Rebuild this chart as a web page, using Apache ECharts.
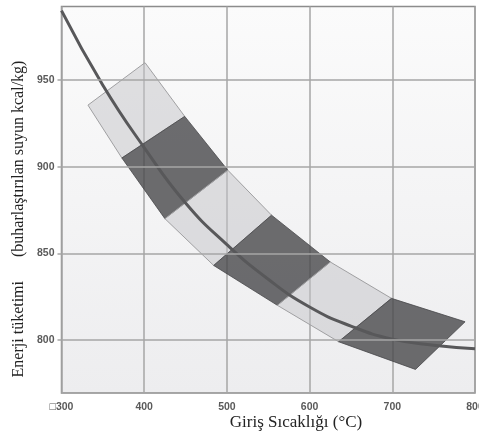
<!DOCTYPE html>
<html>
<head>
<meta charset="utf-8">
<script src="https://cdn.jsdelivr.net/npm/echarts@6/dist/echarts.min.js"></script>
<style>
  html, body { margin: 0; padding: 0; background: #fff; }
  #chart { width: 479px; height: 439px; }
</style>
</head>
<body>
<div id="chart"></div>
<script>
// axis
var xMin = 300, xMax = 800;
var yMin = 769.4, yMax = 992.4;
var yTicks = [800, 850, 900, 950];

// main curve (energy use vs inlet temperature)
var curveX = [300, 350, 400, 450, 500, 550, 600, 650, 700, 750, 800];
var curveY = [990, 947, 911, 879, 855, 835, 819, 808, 800.5, 797, 795];

// shaded band, edges read at the segment boundaries
var upperX = [401, 449, 501, 554, 625, 699, 788];
var upperY = [960, 929, 898, 872, 845, 824, 810.5];
var lowerX = [332, 373, 425, 484, 561, 635, 728];
var lowerY = [935.5, 905, 870, 843, 820, 799, 783];
var shades = ['light', 'dark', 'light', 'dark', 'light', 'dark'];

var chart = echarts.init(document.getElementById('chart'));

var curveData = curveX.map(function (x, i) { return [x, curveY[i]]; });

var bandData = shades.map(function (s, i) {
  return [upperX[i], upperY[i], upperX[i + 1], upperY[i + 1],
          lowerX[i + 1], lowerY[i + 1], lowerX[i], lowerY[i], s === 'dark' ? 1 : 0];
});

function renderBand(params, api) {
  var pts = [];
  for (var k = 0; k < 4; k++) {
    pts.push(api.coord([api.value(k * 2), api.value(k * 2 + 1)]));
  }
  var dark = api.value(8) === 1;
  return {
    type: 'polygon',
    shape: { points: pts },
    style: {
      fill: dark ? 'rgba(72,72,75,0.8)' : 'rgba(196,196,200,0.5)',
      stroke: dark ? 'rgba(72,72,75,0.8)' : '#a0a0a2',
      lineWidth: 1
    }
  };
}

var labelStyle = {
  fontFamily: 'Liberation Sans',
  fontSize: 10.5,
  fontWeight: 'bold',
  color: '#5a5a5a'
};

var option = {
  animation: false,
  grid: {
    left: 61.5, right: 4, top: 6.5, bottom: 46,
    outerBoundsMode: 'none',
    show: true,
    borderColor: '#8c8c8c',
    borderWidth: 1.5,
    backgroundColor: {
      type: 'linear', x: 0, y: 0, x2: 0, y2: 1,
      colorStops: [{ offset: 0, color: '#fbfbfb' }, { offset: 1, color: '#ededef' }]
    }
  },
  xAxis: {
    type: 'value',
    min: xMin, max: xMax, interval: 100,
    axisLine: { show: false },
    axisTick: { show: false },
    axisLabel: Object.assign({
      margin: 9,
      formatter: function (v) { return v === 300 ? '\u25a1300' : String(v); }
    }, labelStyle),
    splitLine: { lineStyle: { color: '#a6a6a6', width: 1.5 } }
  },
  yAxis: {
    type: 'value',
    min: yMin, max: yMax,
    axisLine: { show: false },
    axisTick: {
      show: true,
      length: 4,
      customValues: yTicks,
      lineStyle: { color: '#a6a6a6', width: 1.5 }
    },
    axisLabel: Object.assign({
      margin: 7,
      customValues: yTicks
    }, labelStyle),
    splitLine: { show: false }
  },
  graphic: [
    {
      type: 'text', x: 19, y: 219, rotation: Math.PI / 2,
      style: {
        text: 'Enerji tüketimi      (buharlaştırılan suyun kcal/kg)',
        font: '16px "Liberation Serif"', fill: '#222',
        align: 'center', verticalAlign: 'middle'
      }
    },
    {
      type: 'text', x: 296, y: 423,
      style: {
        text: 'Giriş Sıcaklığı (°C)',
        font: '17px "Liberation Serif"', fill: '#222',
        align: 'center', verticalAlign: 'middle'
      }
    }
  ],
  series: [
    {
      type: 'line',
      silent: true,
      data: [],
      markLine: {
        silent: true,
        symbol: 'none',
        label: { show: false },
        lineStyle: { color: '#a6a6a6', width: 1.5, type: 'solid' },
        data: yTicks.map(function (v) { return { yAxis: v }; })
      },
      z: 1
    },
    {
      type: 'custom',
      renderItem: renderBand,
      data: bandData,
      z: 2
    },
    {
      type: 'line',
      data: curveData,
      smooth: true,
      showSymbol: false,
      lineStyle: { color: '#58585a', width: 3 },
      z: 3
    }
  ]
};

chart.setOption(option);
</script>
</body>
</html>
